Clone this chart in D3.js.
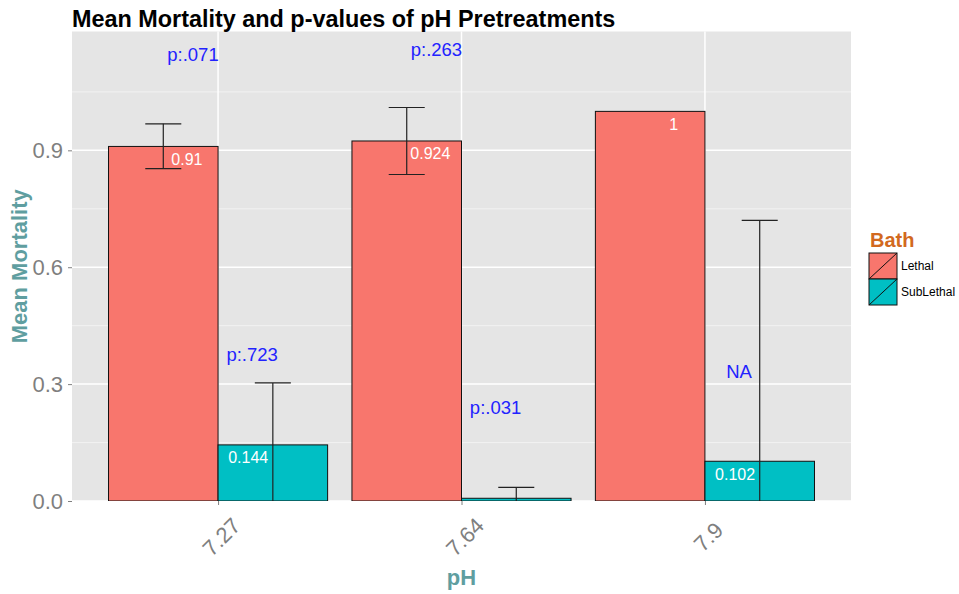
<!DOCTYPE html>
<html>
<head>
<meta charset="utf-8">
<script src="https://cdn.jsdelivr.net/npm/d3@7"></script>
<style>
  body { margin: 0; background: #fff; }
  text { font-family: "Liberation Sans", Arial, sans-serif; }
</style>
</head>
<body>
<div id="canvas"></div>
<script>
// Datos
const phLevels = ["7.27", "7.64", "7.9"];
const baths = ["Lethal", "SubLethal"];

const lethalMean = [0.91, 0.924, 1];
const lethalLow = [0.853, 0.838, null];
const lethalHigh = [0.968, 1.010, null];
const lethalText = ["0.91", "0.924", "1"];

const subMean = [0.144, 0.007, 0.102];
const subLow = [-0.015, -0.021, -0.516];
const subHigh = [0.303, 0.035, 0.72];
const subText = ["0.144", null, "0.102"];

// p-values y su altura en unidades del eje y
const lethalP = ["p:.071", "p:.263", null];
const lethalPY = [1.146, 1.159, null];
const subP = ["p:.723", "p:.031", "NA"];
const subPY = [0.377, 0.241, 0.333];

const yTicks = [0, 0.3, 0.6, 0.9];
const yMinor = [0.15, 0.45, 0.75, 1.05];

const colors = { Lethal: "#F8766D", SubLethal: "#00BFC4" };

// tabla larga para las barras
const rows = [];
phLevels.forEach((ph, i) => {
    rows.push({ ph, bath: "Lethal", mean: lethalMean[i], lo: lethalLow[i], hi: lethalHigh[i],
                label: lethalText[i], p: lethalP[i], py: lethalPY[i] });
    rows.push({ ph, bath: "SubLethal", mean: subMean[i], lo: subLow[i], hi: subHigh[i],
                label: subText[i], p: subP[i], py: subPY[i] });
});

// Caracteristicas del canvas
const width = 959;
const height = 594;
const panel = { left: 72, right: 851, top: 31.5, bottom: 501 };

const svg = d3.select("#canvas").append("svg")
    .attr("width", width)
    .attr("height", height);

const x = d3.scalePoint()
    .domain(phLevels)
    .range([panel.left, panel.right])
    .padding(0.6);
const step = x.step();

const dodge = d3.scaleBand()
    .domain(baths)
    .range([-0.45 * step, 0.45 * step]);

const y = d3.scaleLinear()
    .domain([0, 1.205])
    .range([panel.bottom, panel.top]);

// Fondo del panel
svg.append("rect")
    .attr("x", panel.left).attr("y", panel.top)
    .attr("width", panel.right - panel.left)
    .attr("height", panel.bottom - panel.top)
    .attr("fill", "#E5E5E5");

svg.append("clipPath").attr("id", "clip")
    .append("rect")
    .attr("x", panel.left).attr("y", panel.top)
    .attr("width", panel.right - panel.left)
    .attr("height", panel.bottom - panel.top);

const grid = svg.append("g");
grid.selectAll(".minor").data(yMinor).enter().append("line")
    .attr("x1", panel.left).attr("x2", panel.right)
    .attr("y1", d => y(d)).attr("y2", d => y(d))
    .attr("stroke", "#F2F2F2").attr("stroke-width", 1);
grid.selectAll(".major").data(yTicks).enter().append("line")
    .attr("x1", panel.left).attr("x2", panel.right)
    .attr("y1", d => y(d)).attr("y2", d => y(d))
    .attr("stroke", "#fff").attr("stroke-width", 1.5);
grid.selectAll(".vmajor").data(phLevels).enter().append("line")
    .attr("x1", d => x(d)).attr("x2", d => x(d))
    .attr("y1", panel.top).attr("y2", panel.bottom)
    .attr("stroke", "#fff").attr("stroke-width", 1.5);

const g = svg.append("g").attr("clip-path", "url(#clip)");

// Barras
g.selectAll("rect.bar").data(rows).enter().append("rect")
    .attr("class", "bar")
    .attr("x", d => x(d.ph) + dodge(d.bath))
    .attr("y", d => y(d.mean))
    .attr("width", dodge.bandwidth())
    .attr("height", d => y(0) - y(d.mean))
    .attr("fill", d => colors[d.bath])
    .attr("stroke", "#111")
    .attr("stroke-width", 1);

// Barras de error
const capHalf = 0.074 * step;
const eb = g.selectAll("g.err").data(rows.filter(d => d.hi != null)).enter()
    .append("g").attr("class", "err")
    .attr("stroke", "#222").attr("stroke-width", 1.2);
const cx = d => x(d.ph) + dodge(d.bath) + dodge.bandwidth() / 2;
eb.append("line")
    .attr("x1", cx).attr("x2", cx)
    .attr("y1", d => y(d.hi)).attr("y2", d => y(d.lo));
eb.append("line")
    .attr("x1", d => cx(d) - capHalf).attr("x2", d => cx(d) + capHalf)
    .attr("y1", d => y(d.hi)).attr("y2", d => y(d.hi));
eb.append("line")
    .attr("x1", d => cx(d) - capHalf).attr("x2", d => cx(d) + capHalf)
    .attr("y1", d => y(d.lo)).attr("y2", d => y(d.lo));

// Etiquetas de las medias
const labelShift = { Lethal: -0.128 * step, SubLethal: 0.124 * step };
g.selectAll("text.val").data(rows.filter(d => d.label)).enter().append("text")
    .attr("class", "val")
    .attr("x", d => x(d.ph) + labelShift[d.bath])
    .attr("y", d => y(d.mean) + 18.5)
    .attr("text-anchor", "middle")
    .attr("fill", "#fff")
    .style("font-size", "16px")
    .text(d => d.label);

// p-values
const pShift = { Lethal: -0.103 * step, SubLethal: 0.14 * step };
g.selectAll("text.pv").data(rows.filter(d => d.p)).enter().append("text")
    .attr("class", "pv")
    .attr("x", d => x(d.ph) + pShift[d.bath])
    .attr("y", d => y(d.py))
    .attr("dy", "0.35em")
    .attr("text-anchor", "middle")
    .attr("fill", "#2222ff")
    .style("font-size", "18.5px")
    .text(d => d.p);

// Eje y
const yAxis = svg.append("g")
    .attr("transform", `translate(${panel.left},0)`)
    .call(d3.axisLeft(y).tickValues(yTicks).tickFormat(d3.format(".1f")).tickSize(4).tickPadding(5));
yAxis.select(".domain").remove();
yAxis.selectAll("line").attr("stroke", "#7F7F7F");
yAxis.selectAll("text").attr("fill", "#7F7F7F").style("font-size", "22px")
    .style("font-family", "'Liberation Sans', Arial, sans-serif");

// Eje x
const xAxis = svg.append("g")
    .attr("transform", `translate(0,${panel.bottom})`)
    .call(d3.axisBottom(x).tickSize(4).tickPadding(0));
xAxis.select(".domain").remove();
xAxis.selectAll("line").attr("stroke", "#7F7F7F");
xAxis.selectAll("text")
    .attr("fill", "#7F7F7F")
    .style("font-size", "22px")
    .style("font-family", "'Liberation Sans', Arial, sans-serif")
    .attr("text-anchor", "middle")
    .attr("dy", null)
    .attr("y", 0)
    .attr("transform", "translate(3,36) rotate(-45)")
    .attr("dominant-baseline", "central");

// Titulos
svg.append("text")
    .attr("x", panel.left).attr("y", 27)
    .style("font-size", "23.4px").style("font-weight", "bold")
    .attr("fill", "#000")
    .text("Mean Mortality and p-values of pH Pretreatments");

svg.append("text")
    .attr("x", (panel.left + panel.right) / 2).attr("y", 585)
    .attr("text-anchor", "middle")
    .style("font-size", "22px").style("font-weight", "bold")
    .attr("fill", "#5F9EA0")
    .text("pH");

svg.append("text")
    .attr("transform", `translate(27,${(panel.top + panel.bottom) / 2}) rotate(-90)`)
    .attr("text-anchor", "middle")
    .style("font-size", "22px").style("font-weight", "bold")
    .attr("fill", "#5F9EA0")
    .text("Mean Mortality");

// Leyenda
const legend = svg.append("g").attr("transform", "translate(869,230)");
legend.append("text")
    .attr("x", 1).attr("y", 17)
    .style("font-size", "20px").style("font-weight", "bold")
    .attr("fill", "#D2691E")
    .text("Bath");
const keys = legend.selectAll("g.key").data(baths).enter().append("g")
    .attr("class", "key")
    .attr("transform", (d, i) => `translate(0,${23 + i * 26})`);
keys.append("rect")
    .attr("width", 28).attr("height", 26)
    .attr("fill", d => colors[d])
    .attr("stroke", "#111").attr("stroke-width", 1);
keys.append("line")
    .attr("x1", 0).attr("y1", 26).attr("x2", 28).attr("y2", 0)
    .attr("stroke", "#111").attr("stroke-width", 1);
keys.append("text")
    .attr("x", 32).attr("y", 13).attr("dy", "0.35em")
    .style("font-size", "12px")
    .attr("fill", "#000")
    .text(d => d);
</script>
</body>
</html>
